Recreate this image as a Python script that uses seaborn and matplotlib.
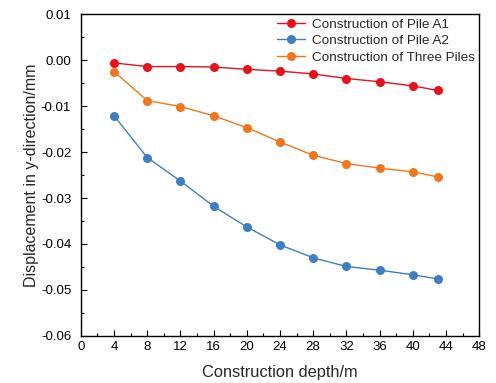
import pandas as pd
import matplotlib.pyplot as plt
import seaborn as sns
from matplotlib.ticker import MultipleLocator

# construction depth (m)
depth = [4, 8, 12, 16, 20, 24, 28, 32, 36, 40, 43]

# displacement in y-direction (mm)
pile_a1 = [-0.0006, -0.0014, -0.0014, -0.0015, -0.0020, -0.0024, -0.0030,
           -0.0040, -0.0047, -0.0056, -0.0066]
pile_a2 = [-0.0121, -0.0212, -0.0263, -0.0318, -0.0363, -0.0402, -0.0430,
           -0.0449, -0.0457, -0.0467, -0.0476]
three_piles = [-0.0025, -0.0088, -0.0101, -0.0121, -0.0147, -0.0178, -0.0207,
               -0.0225, -0.0235, -0.0243, -0.0254]

series_names = ["Construction of Pile A1", "Construction of Pile A2",
                "Construction of Three Piles"]
colors = ["#e8101a", "#3f7fc1", "#f0761e"]

df = pd.concat([
    pd.DataFrame({"depth": depth, "disp": vals, "series": name})
    for name, vals in zip(series_names, [pile_a1, pile_a2, three_piles])
])

sns.set_style("ticks")
plt.rcParams["font.family"] = ["Liberation Sans", "DejaVu Sans"]

fig = plt.figure(figsize=(4.96, 3.83), dpi=100)
ax = fig.add_axes([0.163, 0.123, 0.803, 0.840])

sns.lineplot(data=df, x="depth", y="disp", hue="series", hue_order=series_names,
             palette=colors, marker="o", markersize=6.5, markeredgewidth=0,
             linewidth=1.0, ax=ax)

ax.set_xlim(0, 48)
ax.set_ylim(-0.06, 0.01)
ax.xaxis.set_major_locator(MultipleLocator(4))
ax.xaxis.set_minor_locator(MultipleLocator(2))
ax.yaxis.set_major_locator(MultipleLocator(0.01))
ax.yaxis.set_minor_locator(MultipleLocator(0.005))
ax.yaxis.set_major_formatter(plt.FuncFormatter(lambda v, p: f"{v:.2f}"))
ax.tick_params(which="both", direction="in", top=False, right=False,
               labelsize=9.5, colors="black")
ax.tick_params(axis="y", pad=7)
ax.tick_params(axis="x", pad=4)
ax.tick_params(which="major", length=4, width=0.8)
ax.tick_params(which="minor", length=2, width=0.8)
for s in ax.spines.values():
    s.set_linewidth(1.0)
    s.set_color("black")

ax.set_xlabel("Construction depth/m", fontsize=11.8, labelpad=8)
ax.set_ylabel("Displacement in y-direction/mm", fontsize=11.5, labelpad=1)

ax.legend(loc="upper right", frameon=False, fontsize=9.7, handlelength=2.1,
          borderaxespad=0.1, borderpad=0.2, labelspacing=0.3,
          handletextpad=0.5)

fig.savefig("out.png", dpi=100)
